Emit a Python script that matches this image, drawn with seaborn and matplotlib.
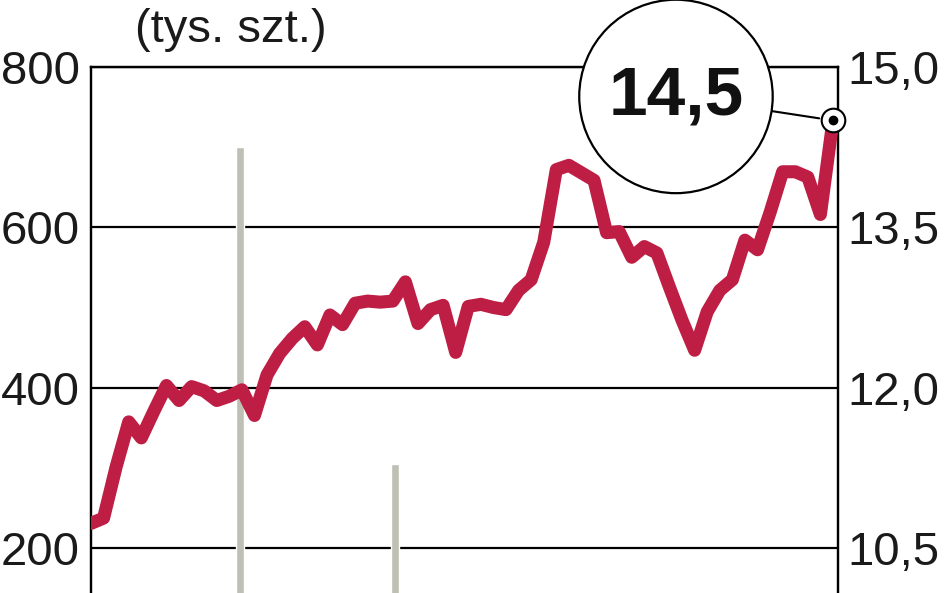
import numpy as np
import seaborn as sns
import matplotlib.pyplot as plt
import pandas as pd

# monthly price index (right axis) and yearly volume bars (left axis, tys. szt.)
months = list(range(60))
price = [10.73, 10.78, 11.26, 11.68, 11.53, 11.78, 12.02, 11.88, 12.01, 11.97,
         11.88, 11.92, 11.98, 11.74, 12.12, 12.32, 12.46, 12.57, 12.40, 12.68,
         12.59, 12.79, 12.81, 12.80, 12.81, 12.99, 12.60, 12.73, 12.77, 12.33,
         12.76, 12.78, 12.75, 12.73, 12.91, 13.01, 13.36, 14.04, 14.08, 14.01,
         13.94, 13.45, 13.46, 13.22, 13.32, 13.26, 12.94, 12.63, 12.35, 12.71,
         12.91, 13.01, 13.38, 13.29, 13.64, 14.02, 14.02, 13.97, 13.62, 14.50]
bar_pos = [11.85, 24.15]
bar_vals = [700, 305]

left_ticks = [200, 400, 600, 800]
right_ticks = [10.5, 12.0, 13.5, 15.0]
right_labels = ['10,5', '12,0', '13,5', '15,0']
last_label = '14,5'

red = '#be1e44'
grey = '#bfc0b3'

sns.set_theme(style='white')
plt.rcParams['font.family'] = ['Liberation Sans', 'DejaVu Sans']

fig = plt.figure(figsize=(9.48, 5.93), dpi=100)
ax = fig.add_axes([91 / 948, 0.0, 747 / 948, 1 - 67 / 593])

ax.bar(bar_pos, bar_vals, width=0.65, color=grey, edgecolor='white', linewidth=1.0, zorder=3)
ax.set_ylim(143.9, 800)
ax.set_xlim(0, 59.4)
ax.set_yticks(left_ticks)
ax.set_yticklabels([str(v) for v in left_ticks])
ax.set_xticks([])
ax.yaxis.grid(True, color='black', linewidth=1.6, zorder=1)
ax.set_axisbelow(True)
ax.tick_params(axis='y', length=0, pad=8, labelsize=34, labelcolor='#1a1a1a')

ax2 = ax.twinx()
df = pd.DataFrame({'month': months, 'price': price})
sns.lineplot(data=df, x='month', y='price', ax=ax2, color=red, linewidth=9.4,
             solid_joinstyle='round', solid_capstyle='round', zorder=5)
ax2.set_ylim(10.079, 15.0)
ax2.set_xlim(0, 59.4)
ax2.set_yticks(right_ticks)
ax2.set_yticklabels(right_labels)
ax2.set_xticks([])
ax2.set_xlabel('')
ax2.set_ylabel('')
ax2.tick_params(axis='y', length=0, pad=7, labelsize=34, labelcolor='#1a1a1a')

for a in (ax, ax2):
    for side in ('left', 'right', 'top'):
        a.spines[side].set_visible(True)
        a.spines[side].set_color('black')
        a.spines[side].set_linewidth(1.6)
    a.spines['bottom'].set_visible(False)

# highlighted last value
ax2.plot(months[-1], price[-1], marker='o', markersize=17, markerfacecolor='white',
         markeredgecolor='black', markeredgewidth=1.5, zorder=7, clip_on=False)
ax2.plot(months[-1], price[-1], marker='o', markersize=6, color='black', zorder=8,
         clip_on=False)
ax2.annotate(last_label, xy=(months[-1], price[-1]), xytext=(-157, 24),
             textcoords='offset pixels', ha='center', va='center',
             fontsize=50, fontweight='bold', color='#111111',
             bbox=dict(boxstyle='circle,pad=0.42', fc='white', ec='black', lw=1.6),
             arrowprops=dict(arrowstyle='-', color='black', lw=1.5, shrinkA=0, shrinkB=10),
             zorder=9, annotation_clip=False)

fig.text(135 / 948, 1 - 30 / 593, '(tys. szt.)', ha='left', va='center',
         fontsize=34, color='#1a1a1a')

fig.savefig('out.png', dpi=100)
plt.close('all')
